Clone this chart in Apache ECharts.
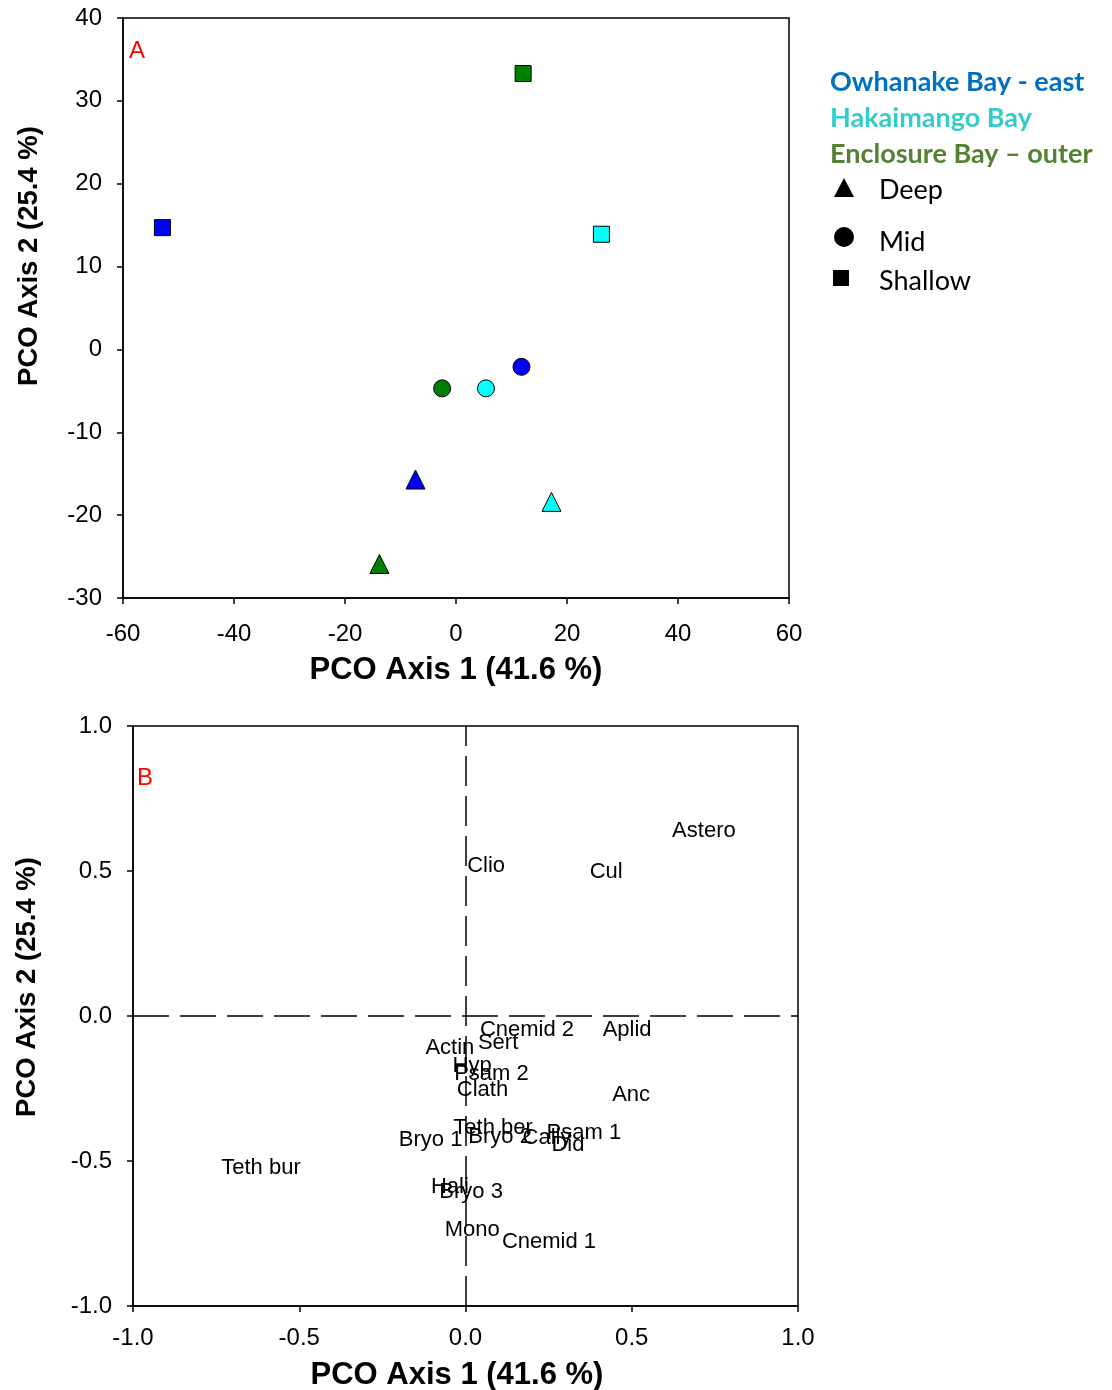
<!DOCTYPE html>
<html><head><meta charset="utf-8">
<script src="https://cdn.jsdelivr.net/npm/echarts@6/dist/echarts.min.js"></script>
<style>html,body{margin:0;padding:0;background:#fff}#c{width:1112px;height:1390px}</style>
</head><body><div id="c"></div>
<script>
// ---- Panel A data ----
const depthNames = ['Deep', 'Mid', 'Shallow'];
const depthSymbols = ['triangle', 'circle', 'rect'];
const siteNames = ['Owhanake Bay - east', 'Hakaimango Bay', 'Enclosure Bay \u2013 outer'];
const owhanakeX = [-7.3, 11.8, -52.9];
const owhanakeY = [-15.7, -2.1, 14.7];
const hakaimangoX = [17.2, 5.4, 26.2];
const hakaimangoY = [-18.4, -4.7, 13.9];
const enclosureX = [-13.8, -2.5, 12.1];
const enclosureY = [-25.9, -4.7, 33.3];

// ---- Panel B data ----
const speciesNames = ['Astero','Clio','Cul','Cnemid 2','Aplid','Actin','Sert','Hyp','Psam 2','Clath','Anc',
  'Teth ber','Bryo 1','Bryo 2','Cally','Psam 1','Did','Teth bur','Hali','Bryo 3','Mono','Cnemid 1'];
const speciesX = [0.717,0.062,0.423,0.185,0.486,-0.047,0.098,0.020,0.078,0.051,0.498,
  0.083,-0.105,0.104,0.245,0.356,0.308,-0.615,-0.047,0.017,0.020,0.251];
const speciesY = [0.638,0.517,0.497,-0.048,-0.048,-0.109,-0.093,-0.172,-0.200,-0.255,-0.272,
  -0.386,-0.428,-0.417,-0.421,-0.403,-0.445,-0.524,-0.590,-0.607,-0.738,-0.779];

const xTitle = 'PCO Axis 1 (41.6 %)';
const yTitle = 'PCO Axis 2 (25.4 %)';

const siteColors = ['#0000FF', '#00FFFF', '#007F00'];
const legendColors = ['#0070C0', '#33CCCC', '#548235'];

const FONT = 'Liberation Sans';
function siteSeries(i, xs, ys) {
  return {
    type: 'scatter', name: siteNames[i], xAxisIndex: 0, yAxisIndex: 0,
    data: xs.map((x, k) => ({
      value: [x, ys[k]], symbol: depthSymbols[k],
      symbolSize: depthSymbols[k] === 'rect' ? 16 : (depthSymbols[k] === 'circle' ? 17 : 19)
    })),
    itemStyle: { color: siteColors[i], borderColor: '#000', borderWidth: 1, opacity: 1 },
    z: 5
  };
}

const axisCommon = {
  axisLine: { show: true, onZero: false, lineStyle: { color: '#000', width: 1.5 } },
  axisTick: { show: true, inside: false, length: 6, lineStyle: { color: '#000', width: 1.5 } },
  splitLine: { show: false },
  axisLabel: { color: '#000', fontFamily: FONT, fontSize: 24 }
};
function ax(extra, labelExtra) {
  return Object.assign({}, axisCommon, extra, { axisLabel: Object.assign({}, axisCommon.axisLabel, labelExtra) });
}

const chart = echarts.init(document.getElementById('c'), null, { renderer: 'canvas' });
const option = {
  animation: false,
  backgroundColor: '#fff',
  grid: [
    { left: 123, top: 18, width: 666, height: 580, show: true, borderColor: '#000', borderWidth: 1.5, backgroundColor: 'transparent' },
    { left: 133, top: 726, width: 665, height: 580, show: true, borderColor: '#000', borderWidth: 1.5, backgroundColor: 'transparent' }
  ],
  xAxis: [
    ax({ type: 'value', gridIndex: 0, min: -60, max: 60, interval: 20 }, { margin: 24 }),
    ax({ type: 'value', gridIndex: 1, min: -1, max: 1, interval: 0.5 }, { margin: 20, formatter: v => v.toFixed(1) })
  ],
  yAxis: [
    ax({ type: 'value', gridIndex: 0, min: -30, max: 40, interval: 10 }, { margin: 21 }),
    ax({ type: 'value', gridIndex: 1, min: -1, max: 1, interval: 0.5 }, { margin: 21, formatter: v => v.toFixed(1) })
  ],
  series: [
    siteSeries(0, owhanakeX, owhanakeY),
    siteSeries(1, hakaimangoX, hakaimangoY),
    siteSeries(2, enclosureX, enclosureY),
    {
      type: 'scatter', xAxisIndex: 1, yAxisIndex: 1, symbolSize: 0,
      data: speciesNames.map((n, i) => ({ name: n, value: [speciesX[i], speciesY[i]] })),
      itemStyle: { color: '#000', opacity: 1 },
      label: { show: true, position: 'inside', formatter: p => p.name, color: '#000', opacity: 1,
        textBorderWidth: 0, textBorderColor: 'transparent',
        fontFamily: FONT, fontSize: 22 },
      labelLayout: { hideOverlap: false },
      markLine: {
        silent: true, symbol: 'none', animation: false,
        label: { show: false },
        lineStyle: { color: '#000', width: 1.5 },
        data: [
          { xAxis: 0, lineStyle: { type: [30, 10], color: '#000', width: 1.5 } },
          { yAxis: 0, lineStyle: { type: [36, 11], color: '#000', width: 1.5 } }
        ]
      },
      z: 5
    }
  ],
  graphic: [
    { type: 'text', x: 456, y: 670, style: { text: xTitle, fill: '#000', font: 'bold 31px ' + FONT, align: 'center', verticalAlign: 'middle' } },
    { type: 'text', x: 457, y: 1375, style: { text: xTitle, fill: '#000', font: 'bold 31px ' + FONT, align: 'center', verticalAlign: 'middle' } },
    { type: 'text', x: 29, y: 256, rotation: Math.PI / 2, style: { text: yTitle, fill: '#000', font: 'bold 27.5px ' + FONT, align: 'center', verticalAlign: 'middle' } },
    { type: 'text', x: 27, y: 987, rotation: Math.PI / 2, style: { text: yTitle, fill: '#000', font: 'bold 27.5px ' + FONT, align: 'center', verticalAlign: 'middle' } },
    { type: 'text', x: 129, y: 51, style: { text: 'A', fill: '#FF0000', font: '24px ' + FONT, verticalAlign: 'middle' } },
    { type: 'text', x: 137, y: 778, style: { text: 'B', fill: '#FF0000', font: '24px ' + FONT, verticalAlign: 'middle' } },
    { type: 'text', x: 830, y: 82, style: { text: siteNames[0], fill: legendColors[0], font: 'bold 27px Lato', verticalAlign: 'middle' } },
    { type: 'text', x: 830, y: 118, style: { text: siteNames[1], fill: legendColors[1], font: 'bold 27px Lato', verticalAlign: 'middle' } },
    { type: 'text', x: 830, y: 154, style: { text: siteNames[2], fill: legendColors[2], font: 'bold 27px Lato', verticalAlign: 'middle' } },
    { type: 'polygon', shape: { points: [[844, 178], [834, 197], [854, 197]] }, style: { fill: '#000' } },
    { type: 'circle', shape: { cx: 844, cy: 237, r: 10 }, style: { fill: '#000' } },
    { type: 'rect', shape: { x: 833, y: 270, width: 16, height: 16 }, style: { fill: '#000' } },
    { type: 'text', x: 879, y: 190, style: { text: depthNames[0], fill: '#000', font: '27px Lato', verticalAlign: 'middle' } },
    { type: 'text', x: 879, y: 242, style: { text: depthNames[1], fill: '#000', font: '27px Lato', verticalAlign: 'middle' } },
    { type: 'text', x: 879, y: 281, style: { text: depthNames[2], fill: '#000', font: '27px Lato', verticalAlign: 'middle' } }
  ]
};
chart.setOption(option);
</script>
</body></html>
